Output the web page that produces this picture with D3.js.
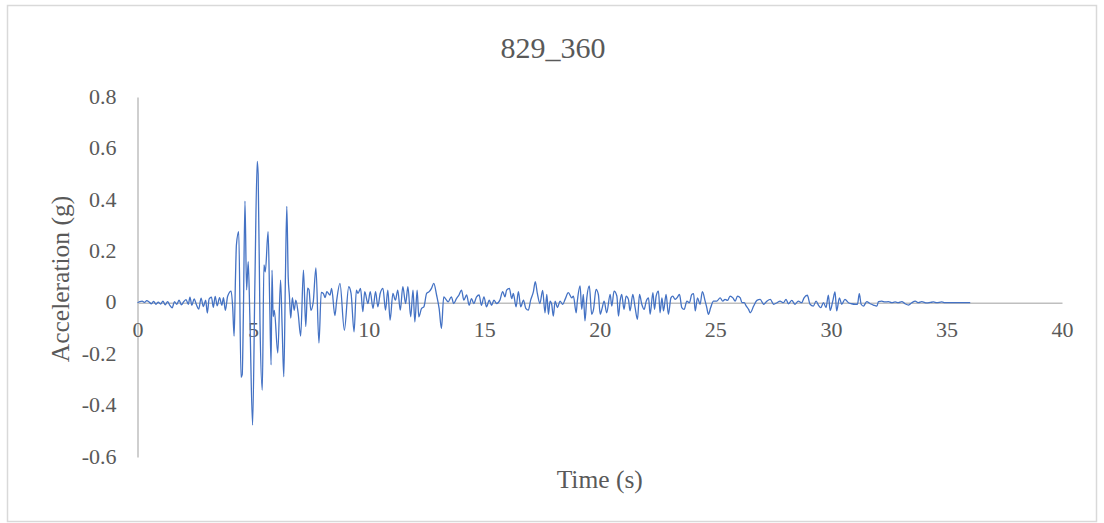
<!DOCTYPE html>
<html>
<head>
<meta charset="utf-8">
<script src="https://cdn.jsdelivr.net/npm/d3@7"></script>
<style>
  html, body { margin: 0; padding: 0; background: #ffffff; }
  svg { display: block; }
</style>
</head>
<body>
<div id="chart"></div>
<script>
const chartTitle = "829_360";
const xTitle = "Time (s)";
const yTitle = "Acceleration (g)";
const xTicks = [0, 5, 10, 15, 20, 25, 30, 35, 40];
const yTicks = [-0.6, -0.4, -0.2, 0, 0.2, 0.4, 0.6, 0.8];

const time = [
  0,0.1,0.2,0.3,0.4,0.5,0.6,0.7,0.8,0.9,
  1.0,1.1,1.2,1.3,1.4,1.5,1.6,1.7,1.8,1.9,
  2.0,2.1,2.2,2.27,2.35,2.45,2.55,2.65,2.75,2.85,
  2.95,3.02,3.1,3.2,3.28,3.36,3.45,3.55,3.65,3.72,
  3.8,3.9,4.05,
  4.12,4.18,4.24,4.28,4.38,4.48,4.53,4.58,4.65,4.72,
  4.79,4.86,4.98,5.08,5.18,5.22,5.3,5.4,5.47,5.53,
  5.65,5.72,5.78,5.82,5.87,5.92,6.07,6.19,6.26,6.33,
  6.4,6.46,6.52,6.57,
  6.63,6.7,6.78,6.85,6.95,7.06,7.18,7.28,7.36,7.42,
  7.5,7.6,7.72,7.85,7.95,8.04,8.12,8.19,8.33,8.4,
  8.54,8.62,8.76,8.95,9.14,9.24,9.37,9.47,9.54,9.65,
  9.75,9.83,9.97,10.07,10.19,10.3,10.4,10.5,10.62,10.73,
  10.83,10.93,11.05,11.16,11.26,11.37,11.48,11.6,11.7,11.82,
  11.92,12.0,12.1,12.17,12.29,12.39,12.51,12.62,12.72,12.82,
  12.94,13.05,13.15,13.25,13.37,13.44,13.58,13.68,13.8,13.91,
  14.02,14.12,14.24,14.35,14.45,14.55,14.67,14.78,14.88,14.99,
  15.1,15.22,15.32,15.42,15.54,15.68,15.8,15.9,15.97,16.09,
  16.19,16.26,16.38,16.48,16.58,16.7,16.8,16.91,17.01,17.13,
  17.21,17.3,17.41,
  17.53,17.63,17.71,17.78,17.85,17.92,17.99,18.07,18.17,18.28,
  18.4,18.5,18.64,18.79,18.86,18.98,19.03,19.15,19.22,19.29,
  19.36,19.44,19.55,19.65,19.73,19.84,19.94,20.02,20.09,20.19,
  20.3,20.45,20.52,20.62,20.74,20.81,20.88,20.95,21.05,21.14,
  21.24,21.31,21.43,21.53,21.63,21.72,21.82,21.92,22.01,22.11,
  22.18,22.3,22.37,22.44,22.54,22.61,22.69,22.76,22.87,22.97,
  23.08,23.16,23.26,23.34,23.45,23.55,23.65,23.77,23.88,23.98,
  24.06,24.13,24.23,24.34,24.44,24.56,24.63,24.7,24.8,24.92,
  25.06,25.21,25.32,25.42,25.53,25.64,25.76,25.86,25.96,26.08,
  26.15,26.25,26.34,26.44,26.51,26.66,26.8,26.94,27.09,27.23,
  27.38,27.52,27.67,
  27.8,27.95,28.06,28.16,28.31,28.45,28.59,28.74,28.84,28.98,
  29.1,29.24,29.36,29.46,29.56,29.68,29.79,29.89,29.97,30.08,
  30.18,30.25,30.37,30.47,30.61,30.76,30.9,31.05,31.15,31.23,
  31.31,31.41,31.55,31.7,31.84,31.99,32.06,32.2,32.34,32.49,
  32.63,32.78,32.92,33.07,33.21,33.36,33.5,33.65,33.79,33.93,
  34.15,34.3,34.44,34.58,34.8,34.94,35.16,36.03
];

const accel = [
  0,0.004,0.006,0.001,0.008,0.003,-0.004,0.005,-0.006,0.002,
  -0.005,0.006,-0.008,0.004,-0.01,-0.02,0.004,-0.006,0.01,-0.008,
  0.004,0.012,-0.006,0.022,-0.01,0.015,-0.008,-0.025,0.018,-0.015,
  0.01,-0.04,0.015,0.022,-0.018,0.025,-0.012,0.02,-0.01,0.02,
  -0.03,0.025,0.045,
  -0.02,-0.13,0.1,0.225,0.276,-0.29,-0.28,-0.05,0.395,0.05,
  0.16,-0.05,-0.476,0.08,0.55,0.5,-0.08,-0.34,0.147,0.12,
  0.276,0,-0.242,0.127,-0.054,-0.03,-0.196,0.088,-0.1,-0.288,
  0.1,0.375,0.1,0.03,
  -0.06,0.02,-0.03,0.01,-0.04,-0.13,0.127,-0.093,0.057,0.05,
  -0.03,0,0.135,-0.157,0.04,0.036,0.02,0.043,0.03,0.056,
  -0.05,0.01,0.075,-0.107,0.062,0.036,-0.113,0.049,0.036,0.056,
  -0.035,0.043,-0.003,0.043,-0.022,0.043,-0.016,0.036,0.056,-0.029,
  0.049,-0.068,0.036,0.01,0.049,-0.029,0.062,-0.003,0.062,-0.055,
  0.049,-0.075,0.049,-0.055,-0.022,-0.016,0.036,0.043,0.056,0.075,
  0.03,-0.022,-0.1,0.023,0.01,0.003,0.023,-0.003,0.016,0.03,
  0.049,0.01,0.03,-0.01,0.016,-0.003,0.023,0.03,-0.01,0.023,
  -0.016,0.01,-0.01,0.01,-0.003,0.01,0.043,0.023,0.049,0.056,
  0.016,0.036,-0.016,0.043,-0.016,0.01,-0.022,-0.029,0.01,0.043,
  0.082,0.036,-0.003,
  0.048,-0.039,0.032,-0.045,0.006,-0.006,-0.052,0.006,-0.019,0.006,
  -0.006,0.013,0.039,0.019,0.026,-0.039,0.006,0.065,-0.026,0.032,
  -0.071,0.019,0.065,-0.045,-0.026,0.052,0.032,-0.045,-0.026,0.006,
  -0.039,0.032,-0.013,0.045,0.026,-0.052,0.006,0.032,-0.026,0.026,
  0.013,-0.032,0.032,-0.019,-0.065,0.032,-0.006,-0.026,0.006,0.019,
  -0.045,0.039,-0.026,0.026,0.045,-0.039,0.019,-0.032,0.032,-0.045,
  0.019,0.026,0.013,0.019,0.032,-0.019,-0.026,0.006,0,0.032,
  0.035,-0.032,0.019,-0.006,0.043,0.006,-0.019,-0.045,-0.019,0.006,
  0.006,0.019,0.006,0.013,0.009,0.026,0.019,0.006,0.026,0.019,
  0,0,-0.013,-0.026,-0.039,-0.013,0.009,0.013,-0.006,0.006,
  0.013,-0.006,0,
  0.006,0,0.013,-0.004,0.009,-0.006,0.006,0,0.019,0.029,
  -0.006,-0.013,0.006,-0.009,-0.019,0,-0.019,0.029,-0.03,0.006,
  0.042,-0.032,0.019,-0.006,0.013,0,-0.004,-0.006,-0.006,0.035,
  -0.006,-0.013,0.004,-0.004,-0.009,-0.013,0.004,0.006,0.003,0.004,
  0,0.003,0,0.004,-0.004,-0.009,0,0.006,0,0.004,
  -0.001,0.001,0.003,0,0.003,0,0,0
];

const W = 1104, H = 523;
const font = "'Liberation Serif', 'Times New Roman', serif";
const textColor = "#595959";
const axisColor = "#bfbfbf";
const lineColor = "#4472c4";

const svg = d3.select("#chart").append("svg")
  .attr("width", W).attr("height", H)
  .style("background", "#ffffff");

// chart border
svg.append("rect")
  .attr("x", 7.5).attr("y", 5.5)
  .attr("width", 1089).attr("height", 516)
  .attr("fill", "#ffffff")
  .attr("stroke", "#d9d9d9").attr("stroke-width", 1.5);

const x = d3.scaleLinear().domain([0, 40]).range([137.5, 1062]);
const y = d3.scaleLinear().domain([-0.6, 0.8]).range([457, 97]);

// title
svg.append("text")
  .attr("x", 553).attr("y", 58)
  .attr("text-anchor", "middle")
  .attr("font-family", font).attr("font-size", 30)
  .attr("fill", textColor)
  .text(chartTitle);

// y axis
const yAxis = d3.axisLeft(y).tickValues(yTicks).tickSize(0).tickPadding(21)
  .tickFormat(d => String(+d.toFixed(1)));
const gy = svg.append("g").attr("transform", `translate(${x(0)},0)`).call(yAxis);
gy.select(".domain").attr("stroke", axisColor).attr("stroke-width", 1.5);
gy.selectAll("text").attr("font-family", font).attr("font-size", 22).attr("fill", textColor)
  .attr("dy", "0.28em");

// x axis at zero
const xAxis = d3.axisBottom(x).tickValues(xTicks).tickSize(0).tickPadding(19)
  .tickFormat(d => String(d));
const gx = svg.append("g").attr("transform", `translate(0,${y(0)})`).call(xAxis);
gx.select(".domain").attr("stroke", axisColor).attr("stroke-width", 1.5);
gx.selectAll("text").attr("font-family", font).attr("font-size", 22).attr("fill", textColor);

// axis titles
svg.append("text")
  .attr("transform", `translate(69,${(y(0.8) + y(-0.6)) / 2 + 2}) rotate(-90)`)
  .attr("text-anchor", "middle")
  .attr("font-family", font).attr("font-size", 25.5)
  .attr("fill", textColor)
  .text(yTitle);

svg.append("text")
  .attr("x", (x(0) + x(40)) / 2).attr("y", 488)
  .attr("text-anchor", "middle")
  .attr("font-family", font).attr("font-size", 25.5)
  .attr("fill", textColor)
  .text(xTitle);

// series
const data = d3.zip(time, accel);
const line = d3.line().curve(d3.curveMonotoneX).x(d => x(d[0])).y(d => y(d[1]));
svg.append("path")
  .datum(data)
  .attr("fill", "none")
  .attr("stroke", lineColor)
  .attr("stroke-width", 1.3)
  .attr("stroke-linejoin", "round")
  .attr("d", line);
</script>
</body>
</html>
